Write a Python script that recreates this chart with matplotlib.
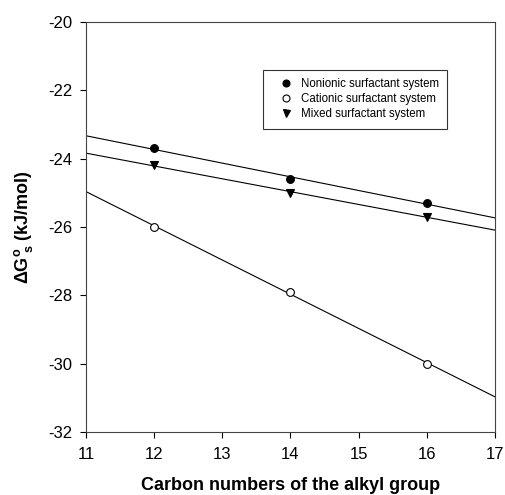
import numpy as np
import matplotlib
matplotlib.use("Agg")
import matplotlib.pyplot as plt

plt.rcParams['font.family'] = ['Liberation Sans', 'DejaVu Sans']
plt.rcParams['axes.unicode_minus'] = False
plt.rcParams['mathtext.fontset'] = 'custom'
plt.rcParams['mathtext.bf'] = 'Liberation Sans:bold'
plt.rcParams['mathtext.rm'] = 'Liberation Sans'

carbon = [12, 14, 16]
nonionic = [-23.7, -24.6, -25.3]
cationic = [-26.0, -27.9, -30.0]
mixed = [-24.2, -25.0, -25.7]
labels = ["Nonionic surfactant system", "Cationic surfactant system", "Mixed surfactant system"]

fig = plt.figure(figsize=(5.06, 4.95), dpi=100)
ax = fig.add_axes([0.170, 0.127, 0.808, 0.829])

xfit = np.array([11, 17])
series = [(nonionic, 'o', 'black'), (cationic, 'o', 'white'), (mixed, 'v', 'black')]
handles = []
for (vals, mk, fc), lab in zip(series, labels):
    p = np.polyfit(carbon, vals, 1)
    ax.plot(xfit, np.polyval(p, xfit), color='black', lw=0.8, zorder=1)
    h, = ax.plot(carbon, vals, linestyle='none', marker=mk, markersize=5.6,
                 markerfacecolor=fc, markeredgecolor='black', markeredgewidth=0.8,
                 label=lab, zorder=3)
    handles.append(h)

ax.set_xlim(11, 17)
ax.set_ylim(-32, -20)
ax.set_xticks(range(11, 18))
ax.set_yticks(range(-32, -19, 2))
ax.tick_params(direction='out', length=4, width=0.8, labelsize=12, pad=6, colors='black')
ax.tick_params(axis='x', pad=7)
for s in ax.spines.values():
    s.set_linewidth(0.8)
    s.set_color('#444444')

ax.set_xlabel("Carbon numbers of the alkyl group", fontsize=13, fontweight='bold', labelpad=10.5)
ax.set_ylabel(r"$\mathbf{\Delta G^{o}_{\ s}}$ (kJ/mol)", fontsize=13, fontweight='bold', labelpad=9)

leg = ax.legend(handles=handles, loc='upper left', bbox_to_anchor=(0.433, 0.883),
                fontsize=8.3, frameon=True, fancybox=False, edgecolor='black',
                borderpad=0.75, handletextpad=0.1, labelspacing=0.25,
                handlelength=2.4, borderaxespad=0, markerscale=0.9)
leg.get_frame().set_linewidth(0.8)

fig.savefig("out.png", dpi=100)
